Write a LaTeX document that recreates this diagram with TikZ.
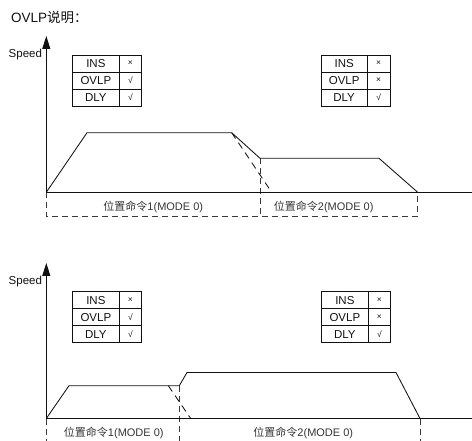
\documentclass[tikz,border=0pt]{standalone}
\usepackage{fontspec}
\setmainfont{Liberation Sans}
\newfontfamily\cjk{Noto Sans CJK SC}
\usetikzlibrary{arrows.meta,positioning}
\definecolor{ink}{HTML}{111111}
\definecolor{dashgray}{HTML}{3A3A3A}
\newcommand\flagno{×}
\newcommand\flagyes{√}
\tikzset{
  every node/.style={text=ink,inner sep=0pt,outer sep=0pt},
  axis/.style={draw=ink,line width=0.9pt,-{Triangle[length=13pt,width=8pt]}},
  profile/.style={draw=ink,line width=0.85pt},
  ghost/.style={draw=ink,line width=0.85pt,dash pattern=on 7pt off 5pt},
  segline/.style={draw=dashgray,line width=0.85pt,dash pattern=on 6pt off 4pt},
  flagname/.style={draw=ink,line width=0.8pt,minimum width=46.3pt,minimum height=17pt,font=\fontsize{11.5}{11.5}\selectfont},
  flagmark/.style={draw=ink,line width=0.8pt,minimum width=22.7pt,minimum height=17pt,font=\fontsize{8.5}{8.5}\selectfont},
  seglabel/.style={font=\fontsize{11}{11}\selectfont,text=ink!85},
  axislabel/.style={font=\fontsize{11.5}{11.5}\selectfont,anchor=east}
}
\begin{document}
\begin{tikzpicture}[x=1pt,y=-1pt]
  \useasboundingbox (0,0) rectangle (472,441);
  \clip (0,0) rectangle (472,441);

  \node[anchor=west,font=\fontsize{13.5}{13.5}\selectfont] (title) at (11,17) {OVLP{\cjk 说明：}};

  % flag tables
  \foreach \tb/\px/\py/\ins/\ovlp/\dly in {ta/72.7/55/\flagno/\flagyes/\flagyes,
      tb/321/55/\flagno/\flagno/\flagyes,
      tc/72.7/291.7/\flagno/\flagyes/\flagyes,
      td/321.7/291.7/\flagno/\flagno/\flagyes}{
    \node[flagname,anchor=north west] (\tb-ins) at (\px,\py) {INS};
    \node[flagmark,right=0pt of \tb-ins] (\tb-insv) {\ins};
    \node[flagname,below=0pt of \tb-ins] (\tb-ovlp) {OVLP};
    \node[flagmark,right=0pt of \tb-ovlp] (\tb-ovlpv) {\ovlp};
    \node[flagname,below=0pt of \tb-ovlp] (\tb-dly) {DLY};
    \node[flagmark,right=0pt of \tb-dly] (\tb-dlyv) {\dly};
  }

  % upper chart
  \coordinate (o1) at (46.3,192.3);
  \coordinate (ytop1) at (46.3,36);
  \coordinate (xend1) at (485,192.3);
  \coordinate (a1) at (87,132.7);
  \coordinate (b1) at (231.7,132.7);
  \coordinate (c1) at (260,158.3);
  \coordinate (d1) at (379,158.3);
  \coordinate (e1) at (417.7,192.3);
  \coordinate (f1) at (271.7,192.3);
  \coordinate (g1) at (46.3,216.7);
  \coordinate (h1) at (260,216.7);
  \coordinate (k1) at (417.7,216.7);
  \node[axislabel] (speed1) at (42,55) {Speed};
  \draw[segline] (o1) -- (g1) -- (k1) -- (e1);
  \draw[segline] (c1) -- (h1);
  \draw[axis] (o1) -- (ytop1);
  \draw[axis] (o1) -- (xend1);
  \draw[profile] (o1) -- (a1) -- (b1) -- (c1) -- (d1) -- (e1);
  \draw[ghost] (b1) -- (f1);
  \node[seglabel] (cmd1) at (153.3,206.7) {{\cjk 位置命令}1(MODE 0)};
  \node[seglabel] (cmd2) at (323.7,206.7) {{\cjk 位置命令}2(MODE 0)};

  % lower chart
  \coordinate (o2) at (46.3,418.5);
  \coordinate (ytop2) at (46.3,263);
  \coordinate (xend2) at (485,418.5);
  \coordinate (a2) at (69,385.7);
  \coordinate (b2) at (168.3,385.7);
  \coordinate (c2) at (179.3,385.7);
  \coordinate (d2) at (187,372.5);
  \coordinate (e2) at (396,372.5);
  \coordinate (f2) at (420,418.5);
  \coordinate (p2) at (190.7,418.5);
  \coordinate (g2) at (46.3,445);
  \coordinate (h2) at (179.3,445);
  \coordinate (k2) at (420,445);
  \node[axislabel] (speed2) at (42,281.7) {Speed};
  \draw[segline] (o2) -- (g2);
  \draw[segline] (c2) -- (h2);
  \draw[segline] (f2) -- (k2);
  \draw[axis] (o2) -- (ytop2);
  \draw[axis] (o2) -- (xend2);
  \draw[profile] (o2) -- (a2) -- (b2) -- (c2) -- (d2) -- (e2) -- (f2);
  \draw[ghost] (b2) -- (p2);
  \node[seglabel] (cmd3) at (113.8,433.3) {{\cjk 位置命令}1(MODE 0)};
  \node[seglabel] (cmd4) at (303.3,433.3) {{\cjk 位置命令}2(MODE 0)};
\end{tikzpicture}
\end{document}
